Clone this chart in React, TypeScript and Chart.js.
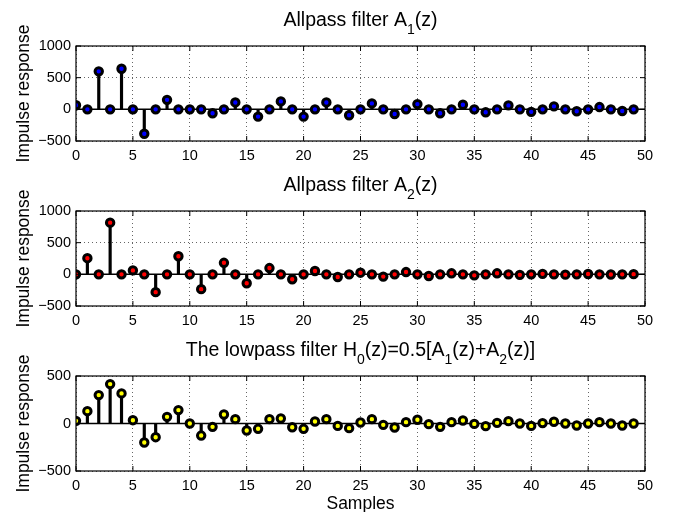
import React, { useEffect, useRef } from 'react';
import { Chart, registerables } from 'chart.js';

Chart.register(...registerables);

// ---- data ----
const samples = [
  0, 1, 2, 3, 4, 5, 6, 7, 8, 9, 10, 11, 12, 13, 14, 15, 16, 17, 18, 19, 20, 21, 22, 23, 24,
  25, 26, 27, 28, 29, 30, 31, 32, 33, 34, 35, 36, 37, 38, 39, 40, 41, 42, 43, 44, 45, 46, 47, 48, 49,
];

const a1Response = [
  65, 0, 600, 0, 640, 0, -385, 0, 150, 0, 0, 0, -62, 0, 109, 0, -115, 0, 125, 0, -115, 0, 109, 0, -94,
  0, 94, 0, -73, 0, 83, 0, -62, 0, 73, 0, -47, 0, 62, 0, -40, 0, 47, 0, -30, 0, 36, 0, -26, 0,
];

const a2Response = [
  0, 255, 0, 816, 0, 62, 0, -281, 0, 286, 0, -234, 0, 182, 0, -140, 0, 99, 0, -78, 0, 52, 0, -42, 0,
  26, 0, -36, 0, 36, 0, -26, 0, 16, 0, -16, 0, 16, 0, -8, 0, 8, 0, -5, 0, 5, 0, -3, 0, 3,
];

const h0Response = [
  28, 130, 299, 415, 317, 35, -200, -144, 70, 141, 0, -127, -35, 95, 46, -74, -56, 46, 53, -39, -56, 21, 46, -25, -49,
  10, 46, -14, -42, 14, 39, -7, -35, 14, 32, -4, -28, 7, 25, 0, -25, 4, 18, 0, -21, 0, 14, 0, -21, 0,
];

const xTickValues = [0, 5, 10, 15, 20, 25, 30, 35, 40, 45, 50];
const xTickLabels = ['0', '5', '10', '15', '20', '25', '30', '35', '40', '45', '50'];
const yTickValuesAllpass = [-500, 0, 500, 1000];
const yTickLabelsAllpass = ['\u2212500', '0', '500', '1000'];
const yTickValuesLowpass = [-500, 0, 500];
const yTickLabelsLowpass = ['\u2212500', '0', '500'];

type Seg = { text: string; sub?: boolean };
const titleA1: Seg[] = [{ text: 'Allpass filter A' }, { text: '1', sub: true }, { text: '(z)' }];
const titleA2: Seg[] = [{ text: 'Allpass filter A' }, { text: '2', sub: true }, { text: '(z)' }];
const titleH0: Seg[] = [
  { text: 'The lowpass filter H' }, { text: '0', sub: true }, { text: '(z)=0.5[A' },
  { text: '1', sub: true }, { text: '(z)+A' }, { text: '2', sub: true }, { text: '(z)]' },
];
const yAxisTitle = 'Impulse response';
const xAxisTitle = 'Samples';

// ---- layout / style ----
const FONT = "'Liberation Sans', Arial, Helvetica, sans-serif";
const W = 678;
const PLOT_LEFT = 76;
const PLOT_RIGHT = 645;
const PLOT_TOP = 46;
const PLOT_H = 95;

type PanelProps = {
  values: number[];
  color: string;
  yMin: number;
  yMax: number;
  yTicks: number[];
  yLabels: string[];
  title: Seg[];
  height: number;
  top: number;
  showXTitle?: boolean;
};

function Panel({ values, color, yMin, yMax, yTicks, yLabels, title, height, top, showXTitle }: PanelProps) {
  const ref = useRef<HTMLCanvasElement>(null);

  useEffect(() => {
    const canvas = ref.current!;
    const pts = samples.map((x, i) => ({ x, y: values[i] }));

    const framePlugin = {
      id: 'matlabFrame',
      beforeDatasetsDraw(chart: any) {
        const { ctx, chartArea } = chart;
        const y0 = chart.scales.y.getPixelForValue(0);
        ctx.save();
        ctx.strokeStyle = '#000';
        ctx.lineWidth = 1.5;
        ctx.beginPath();
        ctx.moveTo(chartArea.left, y0);
        ctx.lineTo(chartArea.right, y0);
        ctx.stroke();
        ctx.restore();
      },
      afterDraw(chart: any) {
        const { ctx, chartArea } = chart;
        const { left, right, top: t, bottom } = chartArea;
        ctx.save();
        ctx.strokeStyle = '#000';
        ctx.lineWidth = 1.2;
        ctx.strokeRect(left, t, right - left, bottom - t);
        // inward ticks
        const tl = 5;
        ctx.lineWidth = 1;
        ctx.beginPath();
        xTickValues.forEach((v) => {
          const px = chart.scales.x.getPixelForValue(v);
          ctx.moveTo(px, bottom);
          ctx.lineTo(px, bottom - tl);
          ctx.moveTo(px, t);
          ctx.lineTo(px, t + tl);
        });
        yTicks.forEach((v) => {
          const py = chart.scales.y.getPixelForValue(v);
          ctx.moveTo(left, py);
          ctx.lineTo(left + tl, py);
          ctx.moveTo(right, py);
          ctx.lineTo(right - tl, py);
        });
        ctx.stroke();

        // title with subscripts
        ctx.fillStyle = '#000';
        const mainFont = `19.5px ${FONT}`;
        const subFont = `14px ${FONT}`;
        let total = 0;
        title.forEach((s) => {
          ctx.font = s.sub ? subFont : mainFont;
          total += ctx.measureText(s.text).width;
        });
        const cx = (left + right) / 2;
        let x = cx - total / 2;
        const baseY = t - 20;
        ctx.textAlign = 'left';
        ctx.textBaseline = 'alphabetic';
        title.forEach((s) => {
          ctx.font = s.sub ? subFont : mainFont;
          ctx.fillText(s.text, x, s.sub ? baseY + 7.5 : baseY);
          x += ctx.measureText(s.text).width;
        });

        // y axis title
        ctx.save();
        ctx.font = `17.5px ${FONT}`;
        ctx.translate(28.5, (t + bottom) / 2);
        ctx.rotate(-Math.PI / 2);
        ctx.textAlign = 'center';
        ctx.textBaseline = 'alphabetic';
        ctx.fillText(yAxisTitle, 0, 0);
        ctx.restore();

        if (showXTitle) {
          ctx.font = `17.5px ${FONT}`;
          ctx.textAlign = 'center';
          ctx.textBaseline = 'alphabetic';
          ctx.fillText(xAxisTitle, cx, bottom + 37.5);
        }
        ctx.restore();
      },
    };

    const chart = new Chart(canvas, {
      type: 'scatter',
      data: {
        datasets: [
          {
            type: 'scatter',
            data: pts,
            pointRadius: 3.7,
            pointBorderWidth: 3,
            pointBackgroundColor: color,
            pointBorderColor: '#000',
            order: 0,
          } as any,
          {
            type: 'bar',
            data: pts,
            backgroundColor: '#000',
            borderWidth: 0,
            barThickness: 2.5,
            order: 1,
          } as any,
        ],
      },
      options: {
        responsive: false,
        animation: false,
        events: [],
        layout: { padding: { left: 0, top: PLOT_TOP, right: W - PLOT_RIGHT, bottom: 0 } },
        plugins: {
          legend: { display: false },
          tooltip: { enabled: false },
          title: { display: false },
        },
        scales: {
          x: {
            type: 'linear',
            offset: false,
            min: 0,
            max: 50,
            afterBuildTicks: (axis: any) => {
              axis.ticks = xTickValues.map((v) => ({ value: v }));
            },
            afterFit: (axis: any) => {
              axis.height = height - PLOT_TOP - PLOT_H;
            },
            ticks: {
              padding: 6,
              autoSkip: false,
              maxRotation: 0,
              color: '#000',
              font: { family: FONT, size: 14.5 },
              callback: (v: any) => {
                const i = xTickValues.indexOf(Number(v));
                return i >= 0 ? xTickLabels[i] : '';
              },
            },
            grid: { display: true, drawTicks: false, color: 'rgba(0,0,0,0.6)', lineWidth: 1, offset: false },
            border: { display: false, dash: [1, 3] },
          },
          y: {
            type: 'linear',
            min: yMin,
            max: yMax,
            afterBuildTicks: (axis: any) => {
              axis.ticks = yTicks.map((v) => ({ value: v }));
            },
            afterFit: (axis: any) => {
              axis.width = PLOT_LEFT;
            },
            ticks: {
              padding: 5,
              color: '#000',
              font: { family: FONT, size: 14.5 },
              callback: (v: any) => {
                const i = yTicks.indexOf(Number(v));
                return i >= 0 ? yLabels[i] : '';
              },
            },
            grid: { display: true, drawTicks: false, color: 'rgba(0,0,0,0.6)', lineWidth: 1 },
            border: { display: false, dash: [1, 3] },
          },
        },
      } as any,
      plugins: [framePlugin],
    });

    return () => chart.destroy();
  }, []);

  return (
    <canvas
      ref={ref}
      width={W}
      height={height}
      style={{ position: 'absolute', left: 0, top, width: W, height, display: 'block' }}
    />
  );
}

export default function App() {
  return (
    <div style={{ position: 'absolute', left: 0, top: 0, width: W, height: 512, background: '#fff' }}>
      <Panel values={a1Response} color="#0000ff" yMin={-500} yMax={1000} yTicks={yTickValuesAllpass} yLabels={yTickLabelsAllpass} title={titleA1} height={165} top={0} />
      <Panel values={a2Response} color="#ff0000" yMin={-500} yMax={1000} yTicks={yTickValuesAllpass} yLabels={yTickLabelsAllpass} title={titleA2} height={165} top={165} />
      <Panel values={h0Response} color="#ffff00" yMin={-500} yMax={500} yTicks={yTickValuesLowpass} yLabels={yTickLabelsLowpass} title={titleH0} height={182} top={330} showXTitle />
    </div>
  );
}
